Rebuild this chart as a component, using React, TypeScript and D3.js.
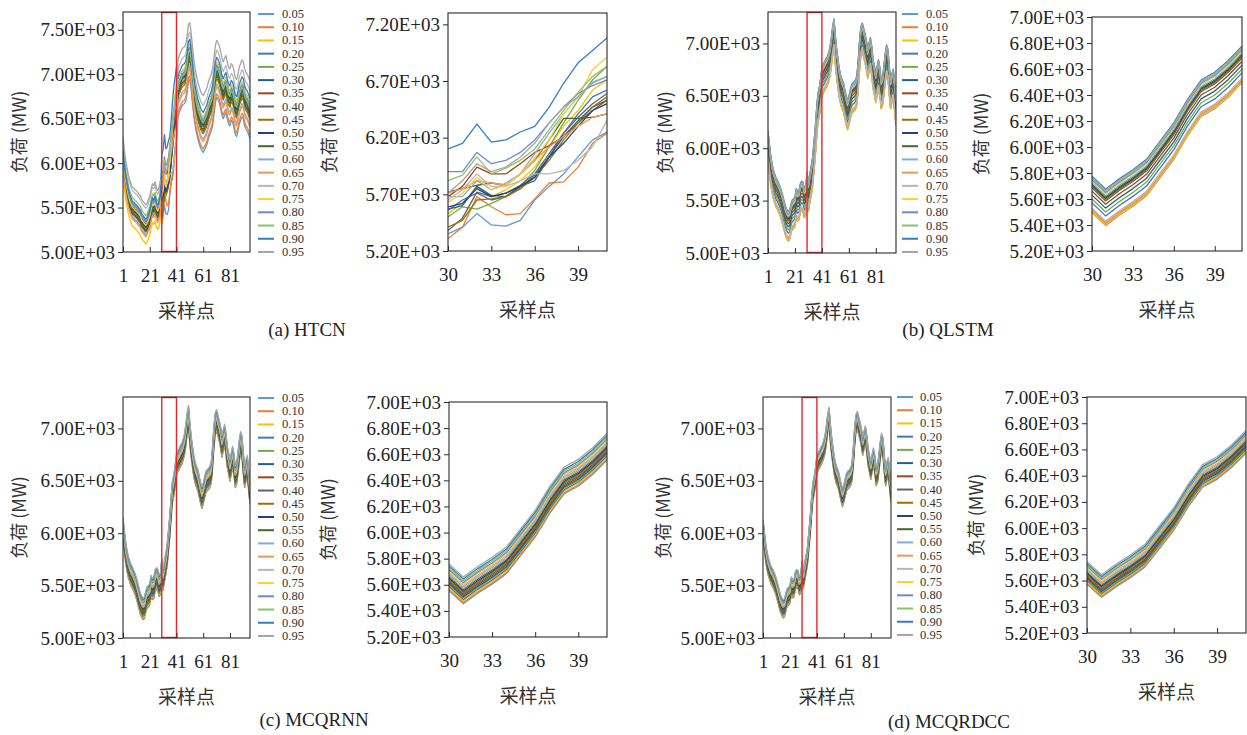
import React, { useEffect, useRef } from 'react';
import * as d3 from 'd3';

const quantiles = ['0.05', '0.10', '0.15', '0.20', '0.25', '0.30', '0.35', '0.40', '0.45', '0.50',
  '0.55', '0.60', '0.65', '0.70', '0.75', '0.80', '0.85', '0.90', '0.95'];
const quantileColors = ['#5B9BD5', '#ED7D31', '#FFC000', '#4472C4', '#70AD47', '#255E91', '#9E480E',
  '#636363', '#997300', '#264478', '#43682B', '#7CAFDD', '#F1975A', '#B7B7B7', '#FFCD33', '#698ED0',
  '#8CC168', '#327DC2', '#A5A5A5'];

const samplePoints = d3.range(1, 97);
const overviewTicks = [1, 21, 41, 61, 81];
const detailTicks = [30, 33, 36, 39];
const detailWindow = [30, 41];

// median shape shared by QLSTM / MCQRNN / MCQRDCC
const baseLoad = [
  6050, 5930, 5820, 5740, 5680, 5640, 5600, 5580, 5550, 5520,
  5480, 5430, 5380, 5330, 5300, 5280, 5290, 5350, 5390, 5400,
  5420, 5500, 5470, 5480, 5550, 5570, 5560, 5500, 5520, 5660,
  5560, 5640, 5710, 5790, 5930, 6070, 6250, 6400, 6460, 6550,
  6660, 6690, 6710, 6740, 6760, 6800, 6850, 6940, 7050, 7120,
  6960, 6830, 6730, 6640, 6580, 6540, 6510, 6450, 6390, 6340,
  6380, 6440, 6490, 6510, 6520, 6540, 6580, 6730, 6920, 7050,
  7080, 7030, 6980, 6920, 6830, 6890, 6940, 6860, 6730, 6670,
  6600, 6670, 6730, 6660, 6540, 6570, 6670, 6790, 6870, 6830,
  6670, 6540, 6600, 6640, 6510, 6380
];

const htcnCenter = [
  6050, 5900, 5780, 5700, 5620, 5560, 5520, 5480, 5470, 5450,
  5440, 5420, 5400, 5380, 5340, 5320, 5300, 5280, 5300, 5340,
  5380, 5450, 5520, 5500, 5540, 5470, 5440, 5480, 5560, 5640,
  5700, 5850, 5800, 5820, 5900, 6020, 6150, 6320, 6440, 6550,
  6640, 6780, 6850, 6880, 6920, 6940, 6950, 6980, 7080, 7200,
  7220, 7100, 6950, 6800, 6700, 6620, 6550, 6500, 6450, 6420,
  6400, 6430, 6460, 6500, 6560, 6600, 6640, 6700, 6820, 6950,
  7020, 7000, 6960, 6900, 6820, 6780, 6820, 6850, 6780, 6720,
  6700, 6760, 6740, 6680, 6600, 6580, 6640, 6720, 6760, 6800,
  6780, 6700, 6660, 6640, 6600, 6560
];
const htcnOffsetLow = [-90, -60, -190, -30, 70, 10, 30, -50, -10, 0, -40, 50, -110, 210, 20, 60, 130, 90, 250];
const htcnOffsetHigh = [-280, -240, 20, 60, 40, 110, -40, 10, -70, 30, -20, -130, -160, 250, 110, 80, 50, 170, 360];

// HTCN, sampling points 30..41, one row per quantile
const htcnDetail = [
  [5350, 5410, 5530, 5430, 5420, 5470, 5650, 5770, 5880, 6030, 6180, 6250],
  [5310, 5410, 5680, 5590, 5520, 5530, 5660, 5800, 5810, 5940, 6150, 6240],
  [5530, 5620, 5770, 5680, 5740, 5820, 5940, 6120, 6300, 6440, 6620, 6710],
  [5560, 5650, 5710, 5650, 5680, 5750, 5870, 6030, 6240, 6410, 6560, 6620],
  [5500, 5590, 5570, 5620, 5680, 5770, 5910, 6120, 6330, 6530, 6710, 6830],
  [5570, 5600, 5770, 5690, 5680, 5770, 5820, 6030, 6210, 6350, 6470, 6530],
  [5680, 5770, 5940, 5880, 5880, 5970, 6070, 6130, 6210, 6330, 6440, 6530],
  [5380, 5490, 5720, 5680, 5710, 5780, 5880, 6060, 6240, 6380, 6500, 6590],
  [5410, 5470, 5650, 5660, 5680, 5750, 5850, 6000, 6180, 6330, 6470, 6560],
  [5590, 5620, 5750, 5680, 5710, 5770, 5850, 6030, 6150, 6300, 6440, 6500],
  [5720, 5750, 5780, 5800, 5780, 5880, 6000, 6180, 6370, 6370, 6380, 6410],
  [5680, 5680, 5820, 5740, 5800, 5880, 6060, 6240, 6410, 6560, 6680, 6740],
  [5710, 5750, 5820, 5800, 5780, 5880, 6000, 6120, 6210, 6300, 6380, 6410],
  [5650, 5740, 5880, 5770, 5770, 5820, 5880, 5880, 5910, 6000, 6120, 6350],
  [5630, 5710, 5850, 5740, 5780, 5880, 6020, 6180, 6410, 6560, 6800, 6910],
  [5900, 5900, 6070, 5970, 6000, 6070, 6180, 6330, 6470, 6590, 6660, 6710],
  [5820, 5870, 6030, 5880, 5930, 6000, 6100, 6270, 6440, 6600, 6740, 6830],
  [6100, 6150, 6320, 6160, 6180, 6250, 6300, 6470, 6680, 6860, 6970, 7080],
  [5710, 5820, 5970, 5900, 5940, 6030, 6150, 6330, 6470, 6560, 6690, 6740]
];

const qlstmOffset = [-165, -150, -160, -90, -60, -30, 0, 25, 35, 45, 55, 65, -140, -130, 80, 90, 100, 115, 105];
const mcqrnnOffset = [-105, -96, -84, -73, -62, -52, -41, -30, -20, -9, 2, 12, 24, 35, 46, 57, 70, 84, 100];
const mcqrdccOffset = [-88, -79, -70, -61, -52, -43, -34, -25, -15, -6, 4, 13, 22, 31, 41, 50, 60, 71, 84];

const overviewTicksY = [5000, 5500, 6000, 6500, 7000, 7500];
const detailTicksY = [5200, 5400, 5600, 5800, 6000, 6200, 6400, 6600, 6800, 7000];
const htcnDetailTicksY = [5200, 5700, 6200, 6700, 7200];

const serif = "'Liberation Serif', 'Times New Roman', 'Noto Sans CJK SC', serif";
const cjk = "'Noto Sans CJK SC', 'Liberation Serif', serif";

const htcnSeries = quantiles.map((q, k) => samplePoints.map((p, i) => {
  if (p < detailWindow[0]) return htcnCenter[i] + htcnOffsetLow[k];
  if (p <= detailWindow[1]) return htcnDetail[k][p - detailWindow[0]];
  return htcnCenter[i] + htcnOffsetHigh[k];
}));
const bandSeries = offsets => quantiles.map((q, k) => baseLoad.map(v => v + offsets[k]));

const panels = [
  {
    id: 'a', caption: '(a) HTCN', captionX: 307, captionY: 336, series: htcnSeries,
    overview: { x0: 123, x1: 250, y0: 12, y1: 252, yDomain: [5000, 7700], yTicks: overviewTicksY, titleX: 18 },
    legend: { lx0: 258, lx1: 274, tx: 282, y0: 14, step: 13.22 },
    detail: { x0: 448, x1: 607, y0: 13, y1: 251, yDomain: [5200, 7300], yTicks: htcnDetailTicksY, titleX: 328 }
  },
  {
    id: 'b', caption: '(b) QLSTM', captionX: 948, captionY: 336, series: bandSeries(qlstmOffset),
    overview: { x0: 768, x1: 896, y0: 12, y1: 253, yDomain: [5000, 7300], yTicks: overviewTicksY.slice(0, 5), titleX: 664 },
    legend: { lx0: 902, lx1: 918, tx: 926, y0: 14, step: 13.22 },
    detail: { x0: 1092, x1: 1242, y0: 17, y1: 251, yDomain: [5200, 7000], yTicks: detailTicksY, titleX: 980 }
  },
  {
    id: 'c', caption: '(c) MCQRNN', captionX: 314, captionY: 726, series: bandSeries(mcqrnnOffset),
    overview: { x0: 123, x1: 250, y0: 397, y1: 638, yDomain: [5000, 7300], yTicks: overviewTicksY.slice(0, 5), titleX: 18 },
    legend: { lx0: 258, lx1: 274, tx: 282, y0: 398, step: 13.22 },
    detail: { x0: 449, x1: 607, y0: 402, y1: 637, yDomain: [5200, 7000], yTicks: detailTicksY, titleX: 327 }
  },
  {
    id: 'd', caption: '(d) MCQRDCC', captionX: 949, captionY: 728, series: bandSeries(mcqrdccOffset),
    overview: { x0: 763, x1: 891, y0: 397, y1: 638, yDomain: [5000, 7300], yTicks: overviewTicksY.slice(0, 5), titleX: 662 },
    legend: { lx0: 897, lx1: 913, tx: 920, y0: 397, step: 13.22 },
    detail: { x0: 1087, x1: 1246, y0: 397, y1: 633, yDomain: [5200, 7000], yTicks: detailTicksY, titleX: 975 }
  }
];

const fmtE = d => (d / 1000).toFixed(2) + 'E+03';

function drawPlot(svg, id, box, xDomain, xTicks, series, showWindow) {
  const x = d3.scaleLinear().domain(xDomain).range([box.x0, box.x1]);
  const y = d3.scaleLinear().domain(box.yDomain).range([box.y1, box.y0]);

  svg.append('clipPath').attr('id', `clip-${id}`)
    .append('rect')
    .attr('x', box.x0).attr('y', box.y0)
    .attr('width', box.x1 - box.x0).attr('height', box.y1 - box.y0);

  const pts = samplePoints.filter(p => p >= xDomain[0] && p <= xDomain[1]);
  const lineGen = d3.line().x(p => x(p[0])).y(p => y(p[1]));

  const g = svg.append('g').attr('clip-path', `url(#clip-${id})`);
  series.forEach((vals, k) => {
    g.append('path')
      .datum(pts.map(p => [p, vals[p - 1]]))
      .attr('fill', 'none')
      .attr('stroke', quantileColors[k])
      .attr('stroke-width', 1.3)
      .attr('stroke-linejoin', 'round')
      .attr('d', lineGen);
  });

  if (showWindow) {
    svg.append('rect')
      .attr('x', x(detailWindow[0])).attr('y', box.y0 + 0.5)
      .attr('width', x(detailWindow[1]) - x(detailWindow[0]))
      .attr('height', box.y1 - box.y0 - 1)
      .attr('fill', 'none')
      .attr('stroke', '#E8252B')
      .attr('stroke-width', 1.4);
  }

  // frame
  svg.append('rect')
    .attr('x', box.x0).attr('y', box.y0)
    .attr('width', box.x1 - box.x0).attr('height', box.y1 - box.y0)
    .attr('fill', 'none').attr('stroke', '#2b2b2b').attr('stroke-width', 1.1);

  const yAxis = svg.append('g')
    .attr('transform', `translate(${box.x0},0)`)
    .call(d3.axisLeft(y).tickValues(box.yTicks).tickFormat(fmtE).tickSize(5).tickPadding(3).tickSizeOuter(0));
  const xAxis = svg.append('g')
    .attr('transform', `translate(0,${box.y1})`)
    .call(d3.axisBottom(x).tickValues(xTicks).tickFormat(d3.format('d')).tickSize(-5).tickPadding(17).tickSizeOuter(0));

  [yAxis, xAxis].forEach(ax => {
    ax.select('.domain').remove();
    ax.selectAll('line').attr('stroke', '#2b2b2b');
    ax.selectAll('text')
      .attr('font-family', serif)
      .attr('font-size', 19)
      .attr('fill', '#222');
  });

  svg.append('text')
    .attr('transform', `translate(${box.titleX},${(box.y0 + box.y1) / 2}) rotate(-90)`)
    .attr('text-anchor', 'middle')
    .attr('dominant-baseline', 'central')
    .attr('font-family', cjk)
    .attr('font-size', 18)
    .attr('fill', '#333')
    .text('负荷 (MW)');

  svg.append('text')
    .attr('x', (box.x0 + box.x1) / 2)
    .attr('y', box.y1 + 57)
    .attr('text-anchor', 'middle')
    .attr('dominant-baseline', 'central')
    .attr('font-family', cjk)
    .attr('font-size', 19)
    .attr('fill', '#333')
    .text('采样点');
}

export default function App() {
  const ref = useRef(null);

  useEffect(() => {
    const svg = d3.select(ref.current);
    svg.selectAll('*').remove();

    panels.forEach(pn => {
      drawPlot(svg, `${pn.id}-all`, pn.overview, [1, 96], overviewTicks, pn.series, true);
      drawPlot(svg, `${pn.id}-win`, pn.detail, detailWindow, detailTicks, pn.series, false);

      const lg = svg.append('g');
      quantiles.forEach((q, k) => {
        const yy = pn.legend.y0 + k * pn.legend.step;
        lg.append('line')
          .attr('x1', pn.legend.lx0).attr('x2', pn.legend.lx1)
          .attr('y1', yy).attr('y2', yy)
          .attr('stroke', quantileColors[k]).attr('stroke-width', 2);
        lg.append('text')
          .attr('x', pn.legend.tx).attr('y', yy)
          .attr('dominant-baseline', 'central')
          .attr('font-family', serif)
          .attr('font-size', 12.5)
          .attr('fill', '#333')
          .text(q);
      });

      svg.append('text')
        .attr('x', pn.captionX).attr('y', pn.captionY)
        .attr('text-anchor', 'middle')
        .attr('font-family', serif)
        .attr('font-size', 19)
        .attr('fill', '#222')
        .text(pn.caption);
    });
  }, []);

  return (
    <svg ref={ref} width={1247} height={735}
      style={{ position: 'absolute', left: 0, top: 0, background: '#fff' }} />
  );
}
